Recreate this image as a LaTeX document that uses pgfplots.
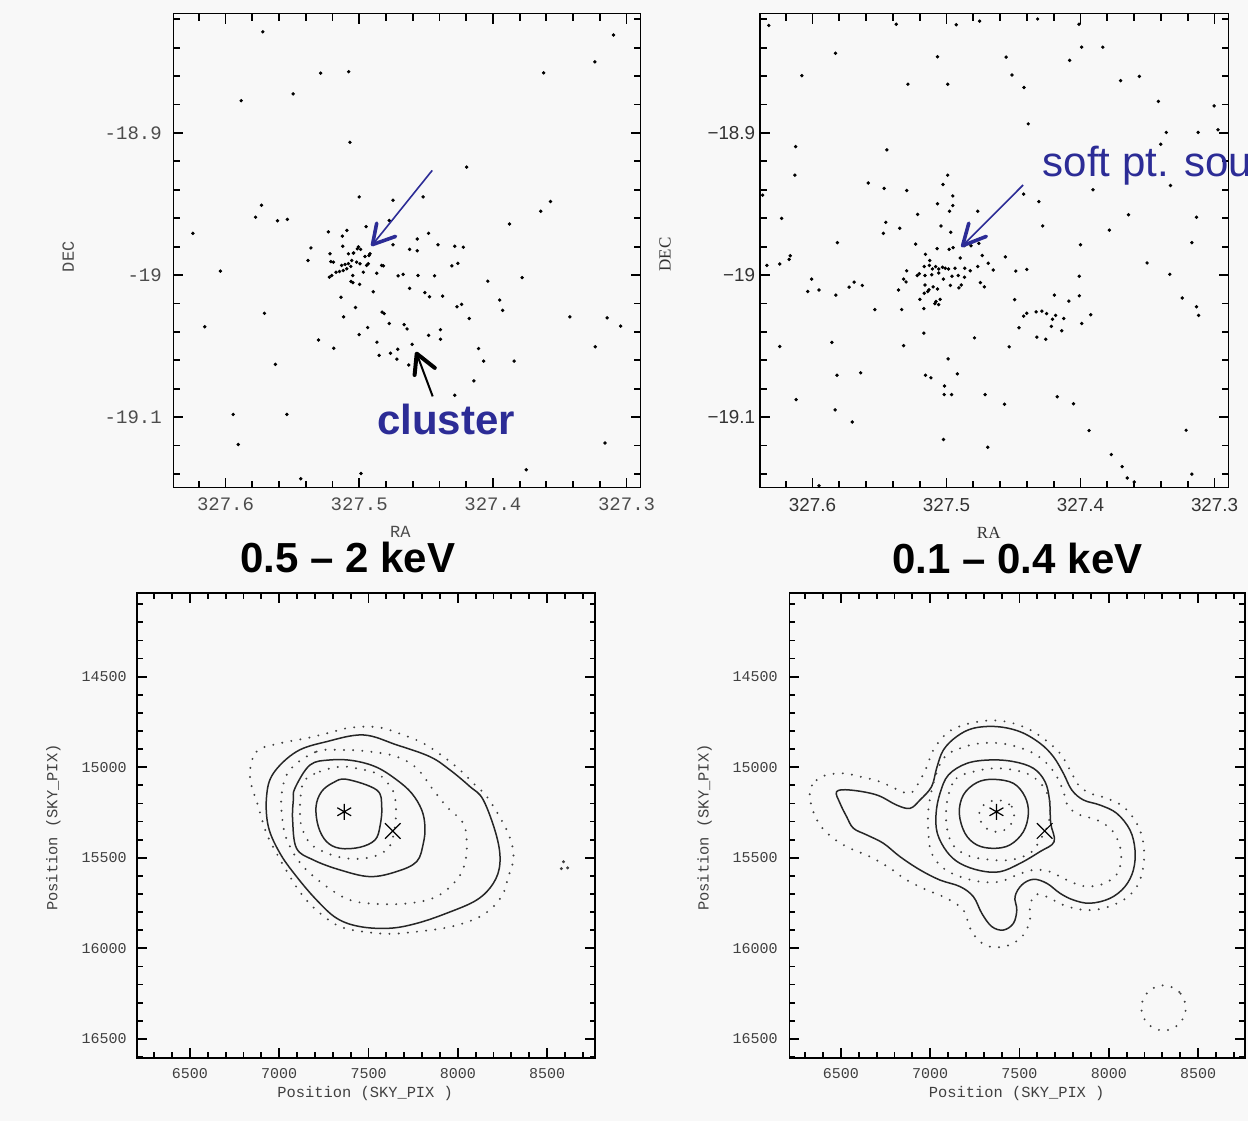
\documentclass[border=0pt]{standalone}
\usepackage{fontspec}
\usepackage{pgfplots}
\pgfplotsset{compat=1.18}
\setmainfont{Liberation Sans}
\newfontfamily\monof{Liberation Mono}
\newfontfamily\seriff{Liberation Serif}
\definecolor{bgc}{RGB}{248,248,248}
\definecolor{annblue}{RGB}{44,44,150}

\pgfplotsset{
  sky/.style={
    scale only axis, anchor=south west,
    scaled ticks=false,
    axis line style={line width=0.8pt},
    major tick style={black, line width=0.9pt},
    minor tick style={black, line width=0.9pt},
    tick align=inside,
    major tick length=5pt, minor tick length=3.5pt,
  },
  radec/.style={sky, x dir=reverse,
    xmin=327.2895, xmax=327.6390, ymin=-19.1495, ymax=-18.816,
    xtick={327.3,327.4,327.5,327.6},
    minor xtick={327.32,327.34,327.36,327.38,327.42,327.44,327.46,327.48,327.52,327.54,327.56,327.58,327.62},
    ytick={-19.1,-19,-18.9},
    minor ytick={-19.14,-19.12,-19.08,-19.06,-19.04,-19.02,-18.98,-18.96,-18.94,-18.92,-18.88,-18.86,-18.84,-18.82},
  },
  pix/.style={sky, y dir=reverse,
    ymin=14039, ymax=16605,
    xtick={6500,7000,7500,8000,8500},
    xticklabels={6500,7000,7500,8000,8500},
    minor xtick={6300,6400,6600,6700,6800,6900,7100,7200,7300,7400,7600,7700,7800,7900,8100,8200,8300,8400,8600,8700},
    ytick={14500,15000,15500,16000,16500},
    yticklabels={14500,15000,15500,16000,16500},
    minor ytick={14100,14200,14300,14400,14600,14700,14800,14900,15100,15200,15300,15400,15600,15700,15800,15900,16100,16200,16300,16400,16600},
    major tick length=5pt, minor tick length=2.8pt,
    tick label style={font=\monof\fontsize{7.5}{8}\selectfont, text=black!75},
    xticklabel style={yshift=-1.5pt}, yticklabel style={xshift=-1.7pt},
    xlabel={Position (SKY\_PIX )}, ylabel={Position (SKY\_PIX)},
    label style={font=\monof\fontsize{7.7}{8}\selectfont, text=black!75},
  },
  dots/.style={only marks, mark=*, mark size=0.65pt, black},
  sol/.style={black!85, line width=0.75pt, smooth cycle, tension=0.6},
  dtt/.style={black!75, line width=1.1pt, line cap=round, dash pattern=on 0pt off 4.6pt, smooth cycle, tension=0.6},
}

\begin{document}
\begin{tikzpicture}
\useasboundingbox (0pt,0pt) rectangle (624pt,-560.5pt);
\clip (0pt,0pt) rectangle (624pt,-560.5pt);
\fill[bgc] (0pt,0pt) rectangle (624pt,-560.5pt);

% ---- top left: 0.5-2 keV photons
\begin{axis}[radec, at={(86.7pt,-243.75pt)}, width=233.6pt, height=236.95pt,
  xticklabels={327.3,327.4,327.5,327.6}, yticklabels={-19.1,-19,-18.9},
  tick label style={font=\monof\fontsize{9.5}{10}\selectfont, text=black!70},
  xticklabel style={yshift=-1.8pt}, yticklabel style={xshift=-2.3pt},
  xlabel={RA}, ylabel={DEC},
  xlabel style={at={(axis description cs:0.486,-0.093)}, anchor=center, font=\monof\fontsize{8.5}{9}\selectfont, text=black!70},
  ylabel style={at={(axis description cs:-0.225,0.487)}, anchor=center, font=\monof\fontsize{8.5}{9}\selectfont, text=black!70},
]
\addplot[dots] coordinates {
(327.5721,-18.8288) (327.3098,-18.8311) (327.3237,-18.8499) (327.5288,-18.8579)
(327.5079,-18.8569) (327.3620,-18.8577) (327.5494,-18.8725) (327.5883,-18.8773)
(327.5069,-18.9066) (327.4196,-18.9240) (327.5000,-18.9450) (327.4747,-18.9473)
(327.4522,-18.9450) (327.5731,-18.9508) (327.3569,-18.9483) (327.3642,-18.9551)
(327.5775,-18.9593) (327.5611,-18.9618) (327.5538,-18.9608) (327.3876,-18.9641)
(327.6244,-18.9706) (327.4949,-18.9659) (327.5231,-18.9696) (327.5092,-18.9686)
(327.5126,-18.9726) (327.4481,-18.9706) (327.4566,-18.9746) (327.5361,-18.9809)
(327.5123,-18.9797) (327.5006,-18.9802) (327.4411,-18.9787) (327.4285,-18.9797)
(327.4221,-18.9804) (327.4623,-18.9819) (327.4566,-18.9829) (327.4747,-18.9787)
(327.4990,-18.9819) (327.5041,-18.9844) (327.4927,-18.9862) (327.5383,-18.9897)
(327.5212,-18.9905) (327.4262,-18.9917) (327.4307,-18.9935) (327.6038,-18.9972)
(327.4819,-18.9935) (327.4709,-19.0005) (327.4671,-18.9995) (327.4560,-19.0003)
(327.4436,-19.0005) (327.4038,-19.0043) (327.3781,-19.0018) (327.4997,-19.0065)
(327.5047,-19.0053) (327.4623,-19.0093) (327.4509,-19.0123) (327.4474,-19.0153)
(327.4376,-19.0148) (327.5136,-19.0156) (327.4895,-19.0118) (327.4234,-19.0206)
(327.4269,-19.0223) (327.3949,-19.0176) (327.3927,-19.0248) (327.5028,-19.0228)
(327.4829,-19.0261) (327.4813,-19.0271) (327.5117,-19.0294) (327.4177,-19.0306)
(327.3424,-19.0294) (327.3145,-19.0301) (327.5709,-19.0269) (327.6155,-19.0364)
(327.3044,-19.0359) (327.4775,-19.0341) (327.4664,-19.0349) (327.4642,-19.0379)
(327.4937,-19.0369) (327.5000,-19.0419) (327.4481,-19.0424) (327.4392,-19.0384)
(327.4392,-19.0452) (327.5304,-19.0457) (327.5190,-19.0515) (327.4867,-19.0472)
(327.4604,-19.0487) (327.4712,-19.0522) (327.4766,-19.0550) (327.4851,-19.0565)
(327.4107,-19.0517) (327.4069,-19.0605) (327.3841,-19.0605) (327.3234,-19.0505)
(327.5627,-19.0628) (327.4718,-19.0592) (327.4630,-19.0633) (327.4142,-19.0745)
(327.4285,-19.0846) (327.5943,-19.0981) (327.5541,-19.0981) (327.5905,-19.1192)
(327.3161,-19.1182) (327.3750,-19.1370) (327.4987,-19.1396) (327.5437,-19.1433)
(327.4775,-18.9616)
(327.5131,-18.9932) (327.5106,-18.9925) (327.5081,-18.9920) (327.5063,-18.9939)
(327.5093,-18.9956) (327.5119,-18.9968) (327.5148,-18.9975) (327.5173,-18.9980)
(327.5205,-19.0003) (327.5223,-19.0015) (327.5193,-18.9909) (327.5056,-18.9897)
(327.5019,-18.9909) (327.4994,-18.9920) (327.4944,-18.9932) (327.4932,-18.9920)
(327.4969,-18.9980) (327.5048,-19.0003) (327.5081,-18.9850) (327.5044,-18.9846)
(327.5014,-18.9815) (327.5218,-18.9850) (327.4957,-18.9869) (327.4919,-18.9850)
(327.4869,-18.9987) (327.4832,-18.9932) (327.5061,-19.0045)
};
\end{axis}

% ---- top right: 0.1-0.4 keV photons
\begin{axis}[radec, at={(380.1pt,-243.75pt)}, width=234.2pt, height=236.95pt,
  xticklabels={327.3,327.4,327.5,327.6}, yticklabels={−19.1,−19,−18.9},
  tick label style={font=\fontsize{9.4}{10}\selectfont, text=black!80},
  xticklabel style={yshift=-1.8pt}, yticklabel style={xshift=1pt},
  xlabel={RA}, ylabel={DEC},
  xlabel style={at={(axis description cs:0.488,-0.095)}, anchor=center, font=\seriff\fontsize{8.5}{9}\selectfont, text=black!80},
  ylabel style={at={(axis description cs:-0.203,0.492)}, anchor=center, font=\seriff\fontsize{8.5}{9}\selectfont, text=black!80},
]
\addplot[dots] coordinates {
(327.6326,-18.8243) (327.5375,-18.8235) (327.4927,-18.8238) (327.4753,-18.8213)
(327.4320,-18.8198) (327.4012,-18.8235) (327.5829,-18.8439) (327.5067,-18.8464)
(327.4555,-18.8466) (327.3991,-18.8396) (327.3834,-18.8396) (327.4081,-18.8489)
(327.6079,-18.8597) (327.5288,-18.8657) (327.4991,-18.8657) (327.4512,-18.8592)
(327.4422,-18.8680) (327.3701,-18.8632) (327.3561,-18.8602) (327.3419,-18.8778)
(327.3003,-18.8810) (327.4390,-18.8936) (327.6125,-18.9096) (327.5445,-18.9119)
(327.3360,-18.8996) (327.3122,-18.8996) (327.2974,-18.8978) (327.3401,-18.9079)
(327.6131,-18.9297) (327.4991,-18.9297) (327.5584,-18.9352) (327.5465,-18.9390)
(327.5297,-18.9405) (327.5026,-18.9362) (327.4424,-18.9430) (327.4311,-18.9483)
(327.3907,-18.9400) (327.3329,-18.9370) (327.6372,-18.9438) (327.4953,-18.9443)
(327.5067,-18.9498) (327.4953,-18.9511) (327.4977,-18.9551) (327.4767,-18.9551)
(327.5215,-18.9573) (327.3642,-18.9576) (327.6230,-18.9601) (327.5453,-18.9629)
(327.5349,-18.9671) (327.5041,-18.9654) (327.4282,-18.9654) (327.3785,-18.9684)
(327.3134,-18.9593) (327.5471,-18.9706) (327.4968,-18.9699) (327.5814,-18.9772)
(327.4000,-18.9787) (327.3169,-18.9772) (327.5230,-18.9782) (327.5070,-18.9814)
(327.4980,-18.9819) (327.4951,-18.9807) (327.4866,-18.9792) (327.4817,-18.9794)
(327.4759,-18.9777) (327.4733,-18.9862) (327.4689,-18.9917) (327.4561,-18.9872)
(327.4898,-18.9880) (327.6166,-18.9864) (327.6174,-18.9890) (327.6244,-18.9922)
(327.6340,-18.9932) (327.3503,-18.9915) (327.5157,-18.9854) (327.5125,-18.9897)
(327.5166,-18.9940) (327.5128,-18.9932) (327.5105,-18.9957) (327.5081,-18.9940)
(327.5058,-18.9957) (327.5029,-18.9945) (327.5009,-18.9952) (327.4985,-18.9957)
(327.4936,-18.9952) (327.5218,-19.0003) (327.5203,-18.9990) (327.5160,-19.0003)
(327.5110,-18.9997) (327.5058,-18.9985) (327.5023,-19.0028) (327.4959,-19.0008)
(327.4913,-19.0003) (327.4863,-18.9952) (327.4823,-18.9970) (327.4767,-18.9940)
(327.4651,-18.9965) (327.4483,-18.9972) (327.4401,-18.9960) (327.5297,-18.9970)
(327.5320,-19.0028) (327.5302,-19.0048) (327.5160,-19.0070) (327.5099,-19.0083)
(327.5067,-19.0098) (327.4971,-19.0073) (327.4907,-19.0090) (327.4890,-19.0070)
(327.4866,-19.0015) (327.4747,-19.0053) (327.4718,-19.0083) (327.4009,-19.0008)
(327.3334,-18.9995) (327.6006,-19.0028) (327.5951,-19.0105) (327.6035,-19.0115)
(327.5826,-19.0141) (327.5727,-19.0085) (327.5689,-19.0050) (327.5628,-19.0073)
(327.5358,-19.0105) (327.5198,-19.0171) (327.5166,-19.0128) (327.5140,-19.0115)
(327.5131,-19.0103) (327.5078,-19.0186) (327.5047,-19.0171) (327.5058,-19.0208)
(327.5087,-19.0201) (327.5169,-19.0236) (327.5334,-19.0243) (327.5535,-19.0243)
(327.4491,-19.0173) (327.4195,-19.0141) (327.4087,-19.0183) (327.4009,-19.0146)
(327.3924,-19.0279) (327.3241,-19.0161) (327.3134,-19.0223) (327.3119,-19.0284)
(327.4424,-19.0289) (327.4401,-19.0269) (327.4331,-19.0259) (327.4288,-19.0254)
(327.4253,-19.0271) (327.4209,-19.0311) (327.4186,-19.0284) (327.4125,-19.0306)
(327.4218,-19.0361) (327.4140,-19.0392) (327.3991,-19.0341) (327.4459,-19.0371)
(327.4326,-19.0437) (327.4259,-19.0452) (327.5169,-19.0409) (327.4791,-19.0442)
(327.5855,-19.0474) (327.5320,-19.0497) (327.6244,-19.0502) (327.4532,-19.0505)
(327.4988,-19.0590) (327.5157,-19.0705) (327.5116,-19.0723) (327.4919,-19.0695)
(327.5640,-19.0688) (327.5817,-19.0705) (327.5015,-19.0781) (327.5017,-19.0841)
(327.4962,-19.0841) (327.4712,-19.0841) (327.4567,-19.0909) (327.4174,-19.0856)
(327.4052,-19.0906) (327.6122,-19.0876) (327.5831,-19.0949) (327.5703,-19.1034)
(327.5023,-19.1157) (327.4692,-19.1212) (327.3936,-19.1094) (327.3212,-19.1092)
(327.3770,-19.1263) (327.3689,-19.1348) (327.3651,-19.1428) (327.3599,-19.1456)
(327.3169,-19.1401) (327.5951,-19.1483)
};
\end{axis}

% ---- bottom left: 0.5-2 keV contours
\begin{axis}[pix, at={(68.55pt,-528.95pt)}, width=229pt, height=232.4pt,
  xmin=6204, xmax=8769,
  xlabel style={at={(axis description cs:0.498,-0.077)}, anchor=center},
  ylabel style={at={(axis description cs:-0.183,0.4955)}, anchor=center},
]
\addplot[dtt] coordinates {(6836,15052) (6873,14914) (7004,14868) (7153,14840) (7284,14809) (7377,14785) (7490,14776) (7583,14785) (7695,14822) (7807,14868) (7919,14942) (8012,15015) (8087,15089) (8162,15162) (8255,15310) (8302,15420) (8311,15512) (8283,15604) (8255,15696) (8199,15770) (8124,15825) (8031,15862) (7919,15889) (7770,15908) (7620,15920) (7471,15908) (7340,15880) (7228,15806) (7135,15714) (7060,15604) (6985,15475) (6929,15365) (6883,15218)};
\addplot[sol] coordinates {(6929,15162) (6967,15034) (7097,14914) (7265,14859) (7471,14822) (7658,14877) (7844,14942) (7956,15015) (8068,15107) (8143,15181) (8218,15383) (8236,15530) (8199,15641) (8106,15733) (7938,15806) (7770,15862) (7620,15889) (7452,15880) (7322,15834) (7209,15733) (7097,15604) (7004,15475) (6939,15328)};
\addplot[dtt] coordinates {(7060,15015) (7209,14914) (7359,14905) (7508,14914) (7658,14942) (7770,15006) (7863,15126) (7938,15218) (8031,15310) (8050,15420) (8040,15530) (7994,15622) (7882,15714) (7732,15751) (7546,15755) (7396,15733) (7265,15659) (7135,15549) (7060,15438) (7023,15328) (7013,15153)};
\addplot[sol] coordinates {(7088,15116) (7172,14988) (7284,14960) (7415,14964) (7545,15000) (7658,15070) (7742,15144) (7798,15236) (7816,15328) (7807,15420) (7770,15521) (7658,15576) (7508,15604) (7340,15567) (7191,15512) (7097,15448) (7075,15291) (7079,15181)};
\addplot[dtt] coordinates {(7144,15070) (7228,15024) (7340,14997) (7433,15006) (7545,15034) (7601,15080) (7643,15144) (7654,15236) (7648,15328) (7630,15411) (7601,15457) (7527,15494) (7433,15506) (7340,15497) (7247,15466) (7172,15420) (7125,15328) (7116,15236) (7122,15144)};
\addplot[sol] coordinates {(7378,15067) (7546,15126) (7574,15218) (7564,15328) (7536,15402) (7452,15442) (7340,15448) (7265,15411) (7219,15328) (7206,15218) (7237,15135) (7303,15085)};
\addplot[only marks, mark=*, mark size=0.55pt, black!75] coordinates {(8592,15522) (8580,15560) (8615,15556)};
\addplot[only marks, mark=asterisk, mark size=4pt, black, mark options={line width=0.6pt}] coordinates {(7364,15246)};
\addplot[only marks, mark=x, mark size=5.5pt, black, mark options={line width=0.6pt}] coordinates {(7636,15352)};
\end{axis}

% ---- bottom right: 0.1-0.4 keV contours
\begin{axis}[pix, at={(394.65pt,-528.95pt)}, width=227.85pt, height=232.4pt,
  xmin=6211, xmax=8763, yticklabel style={xshift=-0.6pt},
  xlabel style={at={(axis description cs:0.499,-0.077)}, anchor=center},
  ylabel style={at={(axis description cs:-0.186,0.4955)}, anchor=center},
]
\addplot[dtt] coordinates {(6327,15126) (6364,15071) (6420,15043) (6514,15034) (6607,15052) (6719,15080) (6812,15122) (6887,15144) (6934,15089) (6981,14997) (7018,14905) (7092,14813) (7186,14767) (7317,14743) (7429,14749) (7541,14785) (7634,14841) (7727,14923) (7783,15015) (7830,15098) (7895,15144) (7989,15172) (8082,15218) (8157,15310) (8194,15420) (8194,15549) (8157,15659) (8082,15733) (7970,15779) (7858,15788) (7746,15761) (7653,15715) (7587,15705) (7559,15770) (7559,15843) (7522,15926) (7447,15981) (7354,15994) (7279,15963) (7223,15889) (7186,15788) (7092,15724) (6981,15678) (6868,15623) (6775,15558) (6663,15494) (6551,15448) (6458,15393) (6383,15319) (6336,15218)};
\addplot[sol] coordinates {(6476,15135) (6551,15126) (6700,15153) (6812,15209) (6887,15227) (6943,15181) (7008,15107) (7036,15006) (7074,14905) (7148,14831) (7242,14785) (7373,14776) (7503,14804) (7615,14868) (7690,14942) (7746,15034) (7793,15126) (7858,15181) (7951,15209) (8045,15255) (8119,15347) (8147,15457) (8138,15567) (8091,15659) (8007,15724) (7895,15751) (7802,15733) (7727,15696) (7653,15641) (7578,15619) (7513,15650) (7475,15715) (7485,15788) (7466,15862) (7410,15899) (7345,15880) (7289,15807) (7242,15715) (7167,15659) (7055,15623) (6943,15567) (6831,15494) (6738,15420) (6645,15374) (6570,15337) (6532,15273) (6495,15199)};
\addplot[dtt] coordinates {(7074,14951) (7167,14896) (7279,14868) (7391,14868) (7485,14887) (7578,14923) (7653,14979) (7709,15052) (7746,15135) (7774,15218) (7839,15264) (7933,15291) (8017,15347) (8063,15439) (8067,15531) (8035,15604) (7951,15650) (7858,15656) (7765,15623) (7671,15577) (7578,15567) (7485,15595) (7391,15632) (7279,15632) (7167,15604) (7074,15558) (7008,15475) (6990,15365) (6990,15236) (7018,15089)};
\addplot[sol] coordinates {(7055,15144) (7102,15043) (7205,14979) (7335,14960) (7466,14969) (7578,15006) (7643,15080) (7668,15181) (7675,15310) (7694,15411) (7615,15466) (7503,15531) (7391,15577) (7279,15571) (7167,15531) (7093,15466) (7040,15365) (7033,15255)};
\addplot[dtt] coordinates {(7102,15153) (7148,15061) (7242,15025) (7354,15006) (7466,15015) (7559,15043) (7634,15107) (7671,15199) (7662,15310) (7615,15402) (7559,15475) (7447,15512) (7317,15509) (7205,15485) (7121,15420) (7089,15291)};
\addplot[sol] coordinates {(7354,15067) (7466,15089) (7531,15163) (7550,15255) (7522,15356) (7447,15429) (7354,15448) (7261,15429) (7195,15365) (7163,15255) (7186,15153) (7261,15085)};
\addplot[dtt] coordinates {(7373,15181) (7457,15218) (7466,15291) (7410,15350) (7335,15350) (7279,15291) (7289,15218)};
\addplot[dtt] coordinates {(8432,16329) (8395,16241) (8307,16204) (8219,16241) (8182,16329) (8219,16417) (8307,16454) (8395,16417)};
\addplot[only marks, mark=asterisk, mark size=4pt, black, mark options={line width=0.6pt}] coordinates {(7371,15246)};
\addplot[only marks, mark=x, mark size=5.5pt, black, mark options={line width=0.6pt}] coordinates {(7641,15352)};
\end{axis}

% ---- annotations (pixel units)
\begin{scope}[x=0.5pt, y=-0.5pt]
\draw[annblue, line width=0.8pt] (432.2,170.4) -- (373.5,243.4);
\draw[annblue, line width=1.8pt, line cap=round, line join=round] (376.7,223.2) -- (372.5,244.6) -- (395.6,236.4);
\draw[annblue, line width=0.8pt] (1023.1,185) -- (963.6,244.6);
\draw[annblue, line width=1.8pt, line cap=round, line join=round] (968.8,223.2) -- (962.6,245.7) -- (986.3,236.4);
\draw[black, line width=1pt] (432.7,396.4) -- (417.2,355);
\draw[black, line width=2pt, line cap=round, line join=round] (414.6,375) -- (416.7,353.6) -- (434.8,367.9);
\node[anchor=base, inner sep=0pt, text=annblue, font=\bfseries\fontsize{21}{25}\selectfont] at (446,434) {cluster};
\node[anchor=base west, inner sep=0pt, text=annblue, font=\fontsize{21}{25}\selectfont] at (1042.5,176.8) {soft pt. source};
\node[anchor=base, inner sep=0pt, font=\bfseries\fontsize{21}{25}\selectfont] at (347.8,572) {0.5 – 2 keV};
\node[anchor=base, inner sep=0pt, font=\bfseries\fontsize{21}{25}\selectfont] at (1017.5,573) {0.1 – 0.4 keV};
\end{scope}
\end{tikzpicture}
\end{document}
